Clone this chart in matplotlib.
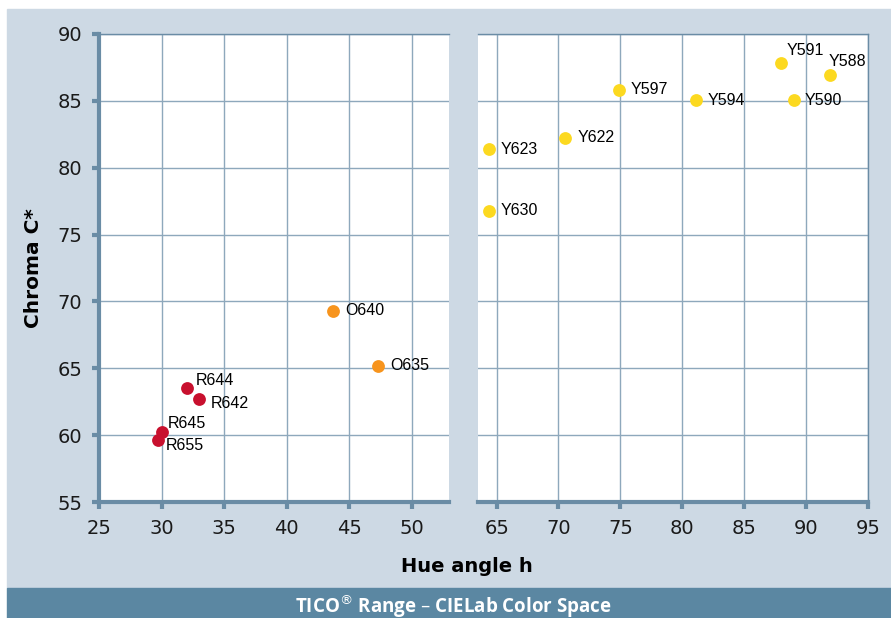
import matplotlib
matplotlib.use("Agg")
from matplotlib import pyplot as plt
from matplotlib.patches import Rectangle

# data
red_names = ['R644', 'R642', 'R645', 'R655']
red_hue = [32.05, 33.0, 30.05, 29.7]
red_chroma = [63.5, 62.7, 60.2, 59.6]

orange_names = ['O640', 'O635']
orange_hue = [43.75, 47.3]
orange_chroma = [69.3, 65.2]

yellow_names = ['Y623', 'Y630', 'Y622', 'Y597', 'Y594', 'Y591', 'Y590', 'Y588']
yellow_hue = [64.35, 64.35, 70.5, 74.9, 81.1, 88.0, 89.0, 91.9]
yellow_chroma = [81.4, 76.8, 82.2, 85.8, 85.1, 87.8, 85.1, 86.9]

left_ticks = [25, 30, 35, 40, 45, 50]
right_ticks = [65, 70, 75, 80, 85, 90, 95]
y_ticks = [55, 60, 65, 70, 75, 80, 85, 90]

"label offsets in pixels"
label_offsets = {
    'R644': (9, 8), 'R642': (12, -4), 'R645': (6, 9), 'R655': (8, -5),
    'O640': (12, 0), 'O635': (13, 0),
    'Y623': (12, -1), 'Y630': (12, 0), 'Y622': (13, 1), 'Y597': (11, 1),
    'Y594': (12, -1), 'Y591': (5, 13), 'Y590': (11, -1), 'Y588': (-1, 14),
}

"colours"
bg = '#cdd9e4'
banner = '#5b87a2'
spine_c = '#6a8ca5'
grid_c = '#8ea8bc'
red = '#c8102e'
orange = '#f7941d'
yellow = '#fcd920'

fig = plt.figure(figsize=(8.91, 6.18), dpi=100)
fig.patch.set_facecolor('white')
fig.patches.append(Rectangle((7 / 891, 30 / 618), 1, 1 - 9 / 618 - 30 / 618,
                             transform=fig.transFigure, color=bg, zorder=-10))
fig.patches.append(Rectangle((7 / 891, 0), 1, 30 / 618,
                             transform=fig.transFigure, color=banner, zorder=-10))

ax_l = fig.add_axes([99 / 891, 1 - 502 / 618, 350 / 891, 468 / 618])
ax_r = fig.add_axes([478 / 891, 1 - 502 / 618, 390 / 891, 468 / 618])


def style(ax, ticks, xlim, show_y):
    ax.set_facecolor('white')
    ax.set_xlim(*xlim)
    ax.set_ylim(55, 90)
    ax.set_xticks(ticks)
    ax.set_yticks(y_ticks)
    ax.grid(True, color=grid_c, linewidth=1.0)
    ax.set_axisbelow(True)
    for s in ax.spines.values():
        s.set_color(spine_c)
        s.set_linewidth(1.0)
    ax.spines['bottom'].set_linewidth(3.0)
    ax.tick_params(axis='x', direction='out', length=5, width=3, color=spine_c,
                   labelsize=14, pad=7, labelcolor='#1a1a1a')
    if show_y:
        ax.spines['left'].set_linewidth(3.0)
        ax.spines['right'].set_visible(False)
        ax.tick_params(axis='y', direction='out', length=5, width=3, color=spine_c,
                       labelsize=14, pad=7, labelcolor='#1a1a1a')
    else:
        ax.spines['left'].set_visible(False)
        ax.tick_params(axis='y', length=0, labelleft=False)


style(ax_l, left_ticks, (25, 53), True)
style(ax_r, right_ticks, (63.5, 95), False)


def plot_group(ax, xs, ys, names, color):
    ax.scatter(xs, ys, s=85, color=color, zorder=3, clip_on=False, linewidths=0)
    for x, y, n in zip(xs, ys, names):
        dx, dy = label_offsets[n]
        ax.annotate(n, (x, y), xytext=(dx, dy), textcoords='offset pixels',
                    ha='left', va='center', fontsize=11.5, family='Liberation Sans',
                    color='black', zorder=4)


plot_group(ax_l, red_hue, red_chroma, red_names, red)
plot_group(ax_l, orange_hue, orange_chroma, orange_names, orange)
plot_group(ax_r, yellow_hue, yellow_chroma, yellow_names, yellow)

ax_l.set_ylabel('Chroma C*', fontsize=14.5, fontweight='bold', labelpad=10)
fig.text(467 / 891, 1 - 566 / 618, 'Hue angle h', ha='center', va='center',
         fontsize=14, fontweight='bold')
fig.text(453 / 891, 1 - 606 / 618, 'TICO$^{\u00ae}$ Range \u2013 CIELab Color Space',
         ha='center', va='center', fontsize=13.5, fontweight='bold',
         family='Open Sans', color='white')

fig.savefig('out.png', dpi=100, facecolor=fig.get_facecolor())
